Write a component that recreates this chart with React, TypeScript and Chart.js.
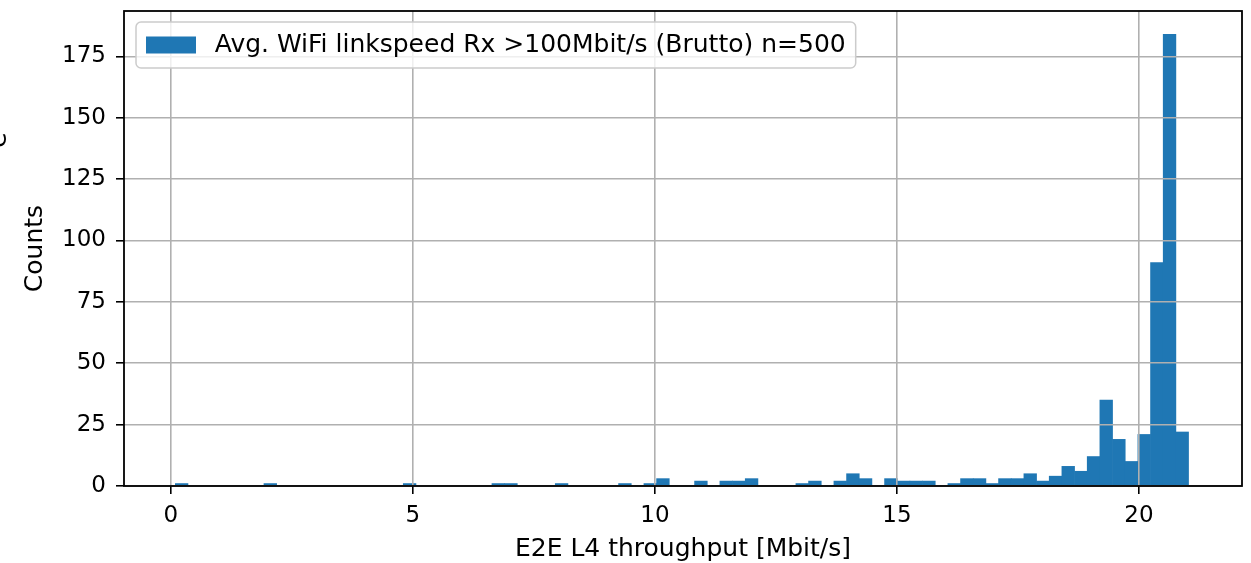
import React, { useEffect, useRef } from "react";
import { Chart, registerables } from "chart.js";

Chart.register(...registerables);

const FONT = "'DejaVu Sans', 'Liberation Sans', sans-serif";

// Histogram: 80 equal bins starting at binStart with width binWidth
const binStart = 0.092;
const binWidth = 0.26167;
const counts = [
  1, 0, 0, 0, 0, 0, 0, 1, 0, 0,
  0, 0, 0, 0, 0, 0, 0, 0, 1, 0,
  0, 0, 0, 0, 0, 1, 1, 0, 0, 0,
  1, 0, 0, 0, 0, 1, 0, 1, 3, 0,
  0, 2, 0, 2, 2, 3, 0, 0, 0, 1,
  2, 0, 2, 5, 3, 0, 3, 2, 2, 2,
  0, 1, 3, 3, 1, 3, 3, 5, 2, 4,
  8, 6, 12, 35, 19, 10, 21, 91, 184, 22,
];
const xTicks = [0, 5, 10, 15, 20];
const yTicks = [0, 25, 50, 75, 100, 125, 150, 175];
const seriesLabel = "Avg. WiFi linkspeed Rx >100Mbit/s (Brutto) n=500";
const xLabel = "E2E L4 throughput [Mbit/s]";
const yLabel = "Counts";
const clippedLabel = "e";

const BAR_COLOR = "#1f77b4";

const framePlugin = {
  id: "mplFrame",
  afterDraw(chart: any) {
    const { ctx, chartArea } = chart;
    const { left, top, right, bottom } = chartArea;
    ctx.save();
    // spines
    ctx.strokeStyle = "#000000";
    ctx.lineWidth = 1.8;
    ctx.strokeRect(left, top, right - left, bottom - top);

    // legend (upper left, inside axes)
    const fs = 25;
    ctx.font = `${fs}px ${FONT}`;
    const label = chart.data.datasets[0].label as string;
    const tw = ctx.measureText(label).width;
    const bx = left + 12;
    const by = top + 11;
    const pad = 0.4 * fs;
    const handleW = 2.0 * fs;
    const handleH = 0.68 * fs;
    const gap = 0.75 * fs;
    const bw = pad + handleW + gap + tw + pad;
    const bh = 46;
    const r = 5;
    ctx.beginPath();
    ctx.moveTo(bx + r, by);
    ctx.lineTo(bx + bw - r, by);
    ctx.arcTo(bx + bw, by, bx + bw, by + r, r);
    ctx.lineTo(bx + bw, by + bh - r);
    ctx.arcTo(bx + bw, by + bh, bx + bw - r, by + bh, r);
    ctx.lineTo(bx + r, by + bh);
    ctx.arcTo(bx, by + bh, bx, by + bh - r, r);
    ctx.lineTo(bx, by + r);
    ctx.arcTo(bx, by, bx + r, by, r);
    ctx.closePath();
    ctx.fillStyle = "rgba(255,255,255,0.8)";
    ctx.fill();
    ctx.strokeStyle = "#cccccc";
    ctx.lineWidth = 1.5;
    ctx.stroke();
    const cy = by + bh / 2;
    ctx.fillStyle = BAR_COLOR;
    ctx.fillRect(bx + pad, cy - handleH / 2, handleW, handleH);
    ctx.fillStyle = "#000000";
    ctx.textBaseline = "middle";
    ctx.textAlign = "left";
    ctx.fillText(label, bx + pad + handleW + gap, cy);

    // clipped fragment of an outer label at the far left edge
    ctx.translate(6, 140);
    ctx.rotate(-Math.PI / 2);
    ctx.textAlign = "center";
    ctx.textBaseline = "alphabetic";
    ctx.fillText(clippedLabel, 0, 0);
    ctx.restore();
  },
};

export default function App() {
  const ref = useRef<HTMLCanvasElement>(null);

  useEffect(() => {
    const canvas = ref.current;
    if (!canvas) return;
    const data = counts.map((c, i) => ({ x: binStart + binWidth * (i + 0.5), y: c }));
    const chart = new Chart(canvas, {
      type: "bar",
      data: {
        datasets: [
          {
            label: seriesLabel,
            data,
            backgroundColor: BAR_COLOR,
            borderWidth: 0,
            barPercentage: 1.0,
            categoryPercentage: 1.0,
          },
        ],
      },
      options: {
        animation: false,
        responsive: false,
        maintainAspectRatio: false,
        devicePixelRatio: 1,
        layout: { padding: { top: 11, right: 9, left: 0, bottom: 0 } },
        plugins: {
          legend: { display: false },
          tooltip: { enabled: false },
        },
        scales: {
          x: {
            type: "linear",
            min: -0.968,
            max: 22.13,
            offset: false,
            afterBuildTicks: (scale: any) => {
              scale.ticks = xTicks.map((v) => ({ value: v }));
            },
            afterFit: (scale: any) => {
              scale.height = 77;
              scale.paddingLeft = 0;
              scale.paddingRight = 0;
            },
            grid: {
              offset: false,
              color: "#b0b0b0",
              lineWidth: 1.6,
              drawTicks: true,
              tickLength: 8,
              tickColor: "#000000",
              tickWidth: 1.6,
              z: 1,
            },
            border: { display: false },
            ticks: {
              autoSkip: false,
              maxRotation: 0,
              padding: 8,
              color: "#000000",
              font: { family: FONT, size: 23 },
            },
            title: {
              display: true,
              text: xLabel,
              color: "#000000",
              font: { family: FONT, size: 25 },
              padding: { top: 0, bottom: -1 },
            },
          },
          y: {
            type: "linear",
            min: 0,
            max: 193.5,
            afterBuildTicks: (scale: any) => {
              scale.ticks = yTicks.map((v) => ({ value: v }));
            },
            afterFit: (scale: any) => {
              scale.width = 124;
              scale.paddingTop = 0;
              scale.paddingBottom = 0;
            },
            grid: {
              color: "#b0b0b0",
              lineWidth: 1.6,
              drawTicks: true,
              tickLength: 8,
              tickColor: "#000000",
              tickWidth: 1.6,
              z: 1,
            },
            border: { display: false },
            ticks: {
              padding: 10,
              color: "#000000",
              font: { family: FONT, size: 23 },
            },
            title: {
              display: true,
              text: yLabel,
              color: "#000000",
              font: { family: FONT, size: 25 },
              padding: { top: 20, bottom: 0 },
            },
          },
        },
      },
      plugins: [framePlugin],
    });
    return () => chart.destroy();
  }, []);

  return (
    <div style={{ position: "absolute", left: 0, top: 0, width: 1251, height: 563, background: "#ffffff" }}>
      <canvas ref={ref} width={1251} height={563} style={{ display: "block", width: 1251, height: 563 }} />
    </div>
  );
}
